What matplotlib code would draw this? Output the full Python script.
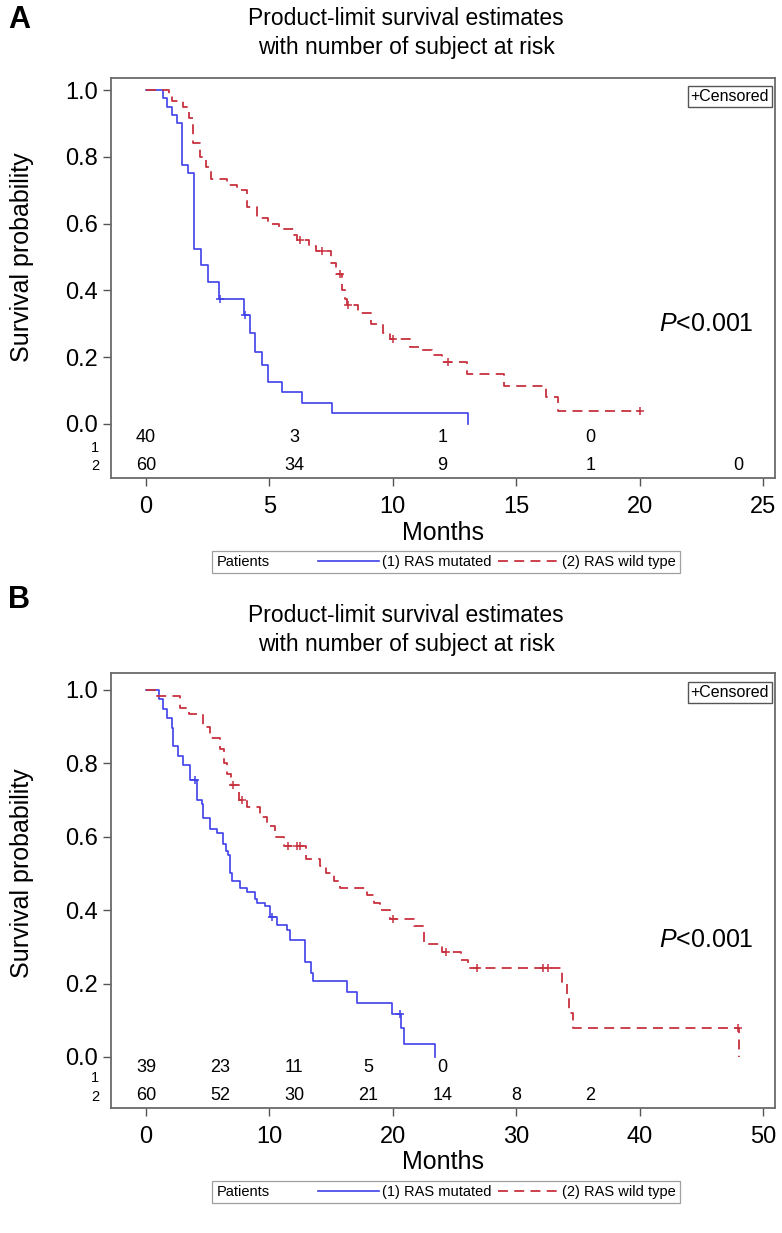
import matplotlib.pyplot as plt
from matplotlib.lines import Line2D
from matplotlib.offsetbox import HPacker
from matplotlib.transforms import blended_transform_factory

plt.rcParams['font.family'] = ['Liberation Sans', 'DejaVu Sans']
plt.rcParams['mathtext.fontset'] = 'custom'
plt.rcParams['mathtext.it'] = 'Liberation Sans:italic'
plt.rcParams['mathtext.rm'] = 'Liberation Sans'

BLUE = '#4040ea'
RED = '#c8323f'

# ---- panel A: step times (months) and survival after each step ----
a_mut_t = [0.68, 0.84, 1.07, 1.24, 1.45, 1.72, 1.96, 2.21, 2.50, 2.95, 3.95,
           4.21, 4.42, 4.69, 4.96, 5.50, 6.31, 7.52, 13.06]
a_mut_s = [0.975, 0.95, 0.925, 0.90, 0.775, 0.75, 0.525, 0.475, 0.425, 0.375,
           0.325, 0.271, 0.216, 0.176, 0.126, 0.097, 0.062, 0.032, 0.0]
a_mut_cens_t = [3.0, 4.02]
a_mut_cens_s = [0.375, 0.325]
a_mut_end = 13.06

a_wt_t = [0.95, 1.05, 1.5, 1.75, 1.92, 2.2, 2.45, 2.65, 3.3, 3.7, 4.1, 4.5,
          4.95, 5.4, 6.0, 6.1, 6.6, 6.9, 7.5, 7.7, 7.95, 8.05, 8.15, 8.6, 9.1,
          9.6, 9.9, 10.7, 11.2, 11.6, 12.0, 13.0, 14.5, 16.2, 16.7]
a_wt_s = [0.983, 0.967, 0.95, 0.917, 0.84, 0.80, 0.77, 0.733, 0.717, 0.70,
          0.65, 0.617, 0.60, 0.583, 0.567, 0.55, 0.533, 0.517, 0.483, 0.45,
          0.40, 0.373, 0.355, 0.333, 0.30, 0.273, 0.255, 0.23, 0.222, 0.207,
          0.185, 0.15, 0.115, 0.08, 0.038]
a_wt_cens_t = [6.24, 7.12, 7.86, 8.2, 10.0, 12.25, 20.0]
a_wt_cens_s = [0.55, 0.517, 0.45, 0.355, 0.255, 0.185, 0.038]
a_wt_end = 20.0

a_risk_t = [0, 6, 12, 18, 24]
a_risk_mut = [40, 3, 1, 0]
a_risk_wt = [60, 34, 9, 1, 0]

# ---- panel B ----
b_mut_t = [1.08, 1.35, 1.67, 2.08, 2.21, 2.62, 3.03, 3.57, 4.1, 4.51, 4.65,
           5.19, 5.73, 6.27, 6.5, 6.67, 6.81, 6.94, 7.62, 8.16, 8.83, 8.97,
           9.64, 10.05, 10.59, 11.4, 11.67, 12.9, 13.4, 13.56, 16.26, 17.07,
           19.9, 20.7, 20.9, 23.4]
b_mut_s = [0.974, 0.949, 0.923, 0.897, 0.846, 0.821, 0.795, 0.754, 0.70,
           0.69, 0.65, 0.62, 0.61, 0.58, 0.56, 0.55, 0.50, 0.48, 0.46, 0.45,
           0.43, 0.42, 0.41, 0.38, 0.36, 0.346, 0.32, 0.26, 0.23, 0.207,
           0.177, 0.147, 0.118, 0.079, 0.035, 0.0]
b_mut_cens_t = [3.97, 10.18, 20.6]
b_mut_cens_s = [0.754, 0.38, 0.118]
b_mut_end = 23.4

b_wt_t = [0.9, 2.76, 3.5, 4.65, 5.2, 6.0, 6.3, 6.6, 6.9, 7.5, 8.2, 9.24, 9.8,
          10.45, 11.2, 13.0, 14.1, 14.6, 15.2, 15.7, 17.9, 18.5, 19.0, 19.8,
          21.7, 22.5, 24.0, 25.5, 26.1, 33.7, 34.1, 34.3, 34.6, 48.1]
b_wt_s = [0.983, 0.95, 0.933, 0.90, 0.87, 0.84, 0.80, 0.77, 0.74, 0.70, 0.68,
          0.655, 0.63, 0.60, 0.575, 0.54, 0.52, 0.50, 0.48, 0.46, 0.44, 0.42,
          0.40, 0.377, 0.357, 0.307, 0.287, 0.265, 0.243, 0.20, 0.16, 0.12,
          0.08, 0.0]
b_wt_cens_t = [7.08, 7.75, 11.53, 12.2, 12.5, 20.0, 24.3, 26.8, 32.2, 32.6, 48.0]
b_wt_cens_s = [0.74, 0.70, 0.575, 0.575, 0.575, 0.377, 0.287, 0.243, 0.243,
               0.243, 0.08]
b_wt_end = 48.1

b_risk_t = [0, 6, 12, 18, 24, 30, 36]
b_risk_mut = [39, 23, 11, 5, 0]
b_risk_wt = [60, 52, 30, 21, 14, 8, 2]

H = 1233.0
W = 782.0


def steps(t, s, end):
    x = [0] + list(t) + [end]
    y = [1.0] + list(s) + [s[-1]]
    return x, y


def panel(ax, letter, letter_y, title_y, ylim, xmax, xticks, mut, wt,
          risk_t, risk_mut, risk_wt, risk_y, row_y, p_xy, xlab_y, leg_y):
    x, y = steps(*mut[:3])
    ax.step(x, y, where='post', color=BLUE, lw=1.2)
    ax.plot(mut[3], mut[4], ls='none', marker='+', ms=6, mew=1.1, color=BLUE)
    x, y = steps(*wt[:3])
    ax.step(x, y, where='post', color=RED, lw=1.3, dashes=(5.5, 3.5))
    ax.plot(wt[3], wt[4], ls='none', marker='+', ms=6, mew=1.1, color=RED)

    ax.set_xlim(-1.42 * xmax / 25, xmax + 0.49 * xmax / 25)
    ax.set_ylim(*ylim)
    ax.set_xticks(xticks)
    ax.set_yticks([0, 0.2, 0.4, 0.6, 0.8, 1.0])
    ax.set_yticklabels(['0.0', '0.2', '0.4', '0.6', '0.8', '1.0'])
    ax.tick_params(direction='out', length=6, width=1, color='#555555',
                   labelsize=17)
    ax.tick_params(axis='x', pad=7)
    ax.tick_params(axis='y', pad=3.5)
    for sp in ax.spines.values():
        sp.set_color('#6a6a6a')
        sp.set_linewidth(1.3)

    # number at risk rows
    for t, n in zip(risk_t, risk_mut):
        ax.text(t, risk_y[0], str(n), ha='center', va='center', fontsize=13)
    for t, n in zip(risk_t, risk_wt):
        ax.text(t, risk_y[1], str(n), ha='center', va='center', fontsize=13)
    tr = blended_transform_factory(ax.transAxes, ax.transData)
    ax.text(-0.024, row_y[0], '1', transform=tr, ha='center', va='center',
            fontsize=10.5)
    ax.text(-0.024, row_y[1], '2', transform=tr, ha='center', va='center',
            fontsize=10.5)

    ax.text(p_xy[0], p_xy[1], r'$P$<0.001', fontsize=18, va='center',
            ha='left')
    ax.text(1 - 6 / 664.0, 0.972, '+Censored', transform=ax.transAxes,
            ha='right', va='top', fontsize=11.5,
            bbox=dict(boxstyle='square,pad=0.18', fc='white', ec='#555555',
                      lw=1.0))

    ax.set_ylabel('Survival probability', fontsize=18)
    ax.yaxis.set_label_coords((34 - 111) / 664.0,
                              (0.5 - ylim[0]) / (ylim[1] - ylim[0]))
    ax.set_xlabel('Months', fontsize=18, va='center')
    ax.xaxis.set_label_coords(0.5, xlab_y)

    fig.text(19 / W, 1 - letter_y / H, letter, fontsize=22, fontweight='bold',
             ha='center', va='center')
    fig.text(406 / W, 1 - title_y / H,
             'Product-limit survival estimates\nwith number of subject at risk',
             fontsize=16.5, ha='center', va='center', linespacing=1.3)

    handles = [Line2D([], [], color=BLUE, lw=1.2),
               Line2D([], [], color=RED, lw=1.3, dashes=(5.5, 3.5))]
    leg = ax.legend(handles, ['(1) RAS mutated', '(2) RAS wild type'],
                    title='Patients', ncol=2, loc='center',
                    bbox_to_anchor=(0.5045, leg_y), fontsize=10.5,
                    title_fontsize=10.5, frameon=True, fancybox=False,
                    edgecolor='#888888', handlelength=4.2, handletextpad=0.2,
                    columnspacing=0.4, borderpad=0.2, borderaxespad=0)
    leg.get_frame().set_linewidth(0.9)
    # put the "Patients" title to the left of the entries
    fs = 10.5 * fig.dpi / 72.0
    box = HPacker(pad=leg.borderpad * fs, sep=2.4 * fs, align='center',
                  children=[leg._legend_title_box, leg._legend_handle_box])
    box.set_figure(fig)
    box.axes = ax
    box.set_offset(leg._findoffset)
    leg._legend_box = box


fig = plt.figure(figsize=(W / 100, H / 100), dpi=100)
axA = fig.add_axes([111 / W, 1 - 478 / H, 664 / W, 400 / H])
axB = fig.add_axes([111 / W, 1 - 1108 / H, 664 / W, 435 / H])

panel(axA, 'A', 20, 33, (-0.162, 1.036), 25, [0, 5, 10, 15, 20, 25],
      (a_mut_t, a_mut_s, a_mut_end, a_mut_cens_t, a_mut_cens_s),
      (a_wt_t, a_wt_s, a_wt_end, a_wt_cens_t, a_wt_cens_s),
      a_risk_t, a_risk_mut, a_risk_wt, (-0.042, -0.125), (-0.072, -0.127),
      (20.8, 0.30), (478 - 533) / 400.0, (478 - 562) / 400.0)
panel(axB, 'B', 600, 630, (-0.139, 1.046), 50, [0, 10, 20, 30, 40, 50],
      (b_mut_t, b_mut_s, b_mut_end, b_mut_cens_t, b_mut_cens_s),
      (b_wt_t, b_wt_s, b_wt_end, b_wt_cens_t, b_wt_cens_s),
      b_risk_t, b_risk_mut, b_risk_wt, (-0.030, -0.104), (-0.057, -0.109),
      (41.6, 0.32), (1108 - 1162) / 435.0, (1108 - 1192) / 435.0)

fig.savefig('out.png', dpi=100)
